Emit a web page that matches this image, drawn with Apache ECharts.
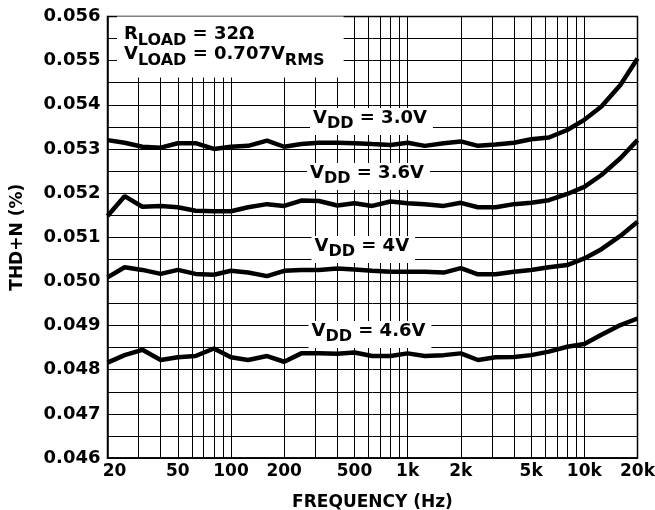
<!DOCTYPE html>
<html>
<head>
<meta charset="utf-8">
<script src="https://cdn.jsdelivr.net/npm/echarts@6/dist/echarts.min.js"></script>
<style>
html,body{margin:0;padding:0;background:#fff;}
#chart{width:655px;height:510px;}
</style>
</head>
<body>
<div id="chart"></div>
<script>
// ---- data ----
const freqs = [20,25,31.5,40,50,63,80,100,125,160,200,250,315,400,500,630,800,1000,1250,1600,2000,2500,3150,4000,5000,6300,8000,10000,12500,16000,20000];
const vdd30 = [0.05320,0.05314,0.05305,0.05303,0.05313,0.05313,0.05300,0.05305,0.05307,0.05319,0.05305,0.05311,0.05314,0.05314,0.05313,0.05311,0.05309,0.05314,0.05307,0.05313,0.05317,0.05307,0.05310,0.05314,0.05322,0.05326,0.05343,0.05366,0.05396,0.05445,0.05505];
const vdd36 = [0.05148,0.05193,0.05169,0.05171,0.05168,0.05160,0.05159,0.05159,0.05168,0.05175,0.05171,0.05183,0.05182,0.05172,0.05177,0.05171,0.05181,0.05177,0.05175,0.05171,0.05178,0.05168,0.05168,0.05175,0.05178,0.05184,0.05198,0.05214,0.05241,0.05279,0.05320];
const vdd40 = [0.05009,0.05032,0.05026,0.05017,0.05026,0.05017,0.05015,0.05024,0.05020,0.05012,0.05024,0.05026,0.05026,0.05029,0.05027,0.05024,0.05022,0.05022,0.05022,0.05020,0.05030,0.05016,0.05016,0.05022,0.05026,0.05032,0.05037,0.05052,0.05073,0.05103,0.05135];
const vdd46 = [0.04816,0.04833,0.04845,0.04822,0.04828,0.04831,0.04848,0.04828,0.04822,0.04831,0.04818,0.04837,0.04837,0.04836,0.04839,0.04831,0.04831,0.04837,0.04831,0.04833,0.04837,0.04822,0.04828,0.04829,0.04833,0.04841,0.04852,0.04858,0.04879,0.04901,0.04916];
const gridFreqs = [20,30,40,50,60,70,80,90,100,200,300,400,500,600,700,800,900,1000,2000,3000,4000,5000,6000,7000,8000,9000,10000,20000];
const xLabelFreqs = [20,50,100,200,500,1000,2000,5000,10000,20000];
const yMin = 0.046, yMax = 0.056, yStep = 0.001;
const xName = 'FREQUENCY (Hz)';
const yName = 'THD+N (%)';

// ---- chart ----
const FONT = 'DejaVu Sans';
const lg = Math.log10;
const toXY = arr => freqs.map((f, i) => [lg(f), arr[i]]);
const fmtF = v => {
  const f = Math.round(Math.pow(10, v));
  const t = f >= 1000 ? (f / 1000) + 'k' : String(f);
  return f === 20 ? '{first|' + t + '}' : t;
};

const rich = {
  m: {fontFamily: FONT, fontWeight: 'bold', fontSize: 18, lineHeight: 20, verticalAlign: 'top', fill: '#000'},
  s: {fontFamily: FONT, fontWeight: 'bold', fontSize: 16, lineHeight: 20, padding: [7, 0, 0, 0], verticalAlign: 'top', fill: '#000'}
};
function label(text, left, top, padding) {
  return {
    type: 'text', left: left, top: top, z: 100,
    style: {text: text, rich: rich, backgroundColor: '#fff', padding: padding, fill: '#000',
            fontFamily: FONT, fontWeight: 'bold', fontSize: 18}
  };
}

const lineSeries = (name, arr) => ({
  name: name, type: 'line', data: toXY(arr), showSymbol: false, symbol: 'none',
  lineStyle: {color: '#000', width: 4.5}, z: 5, animation: false
});

const chart = echarts.init(document.getElementById('chart'));
chart.setOption({
  animation: false,
  backgroundColor: '#fff',
  grid: {left: 107.5, right: 17.5, top: 16.5, bottom: 52, show: true, borderColor: '#000', borderWidth: 1.5,
         containLabel: false, outerBoundsMode: 'none'},
  xAxis: {
    type: 'value', min: lg(20), max: lg(20000),
    name: xName, nameLocation: 'middle', nameGap: 36,
    nameTextStyle: {fontFamily: FONT, fontWeight: 'bold', fontSize: 17, color: '#000'},
    axisLine: {show: true, lineStyle: {color: '#000', width: 1.5}},
    axisTick: {show: false, customValues: gridFreqs.map(lg)},
    axisLabel: {customValues: xLabelFreqs.map(lg), formatter: fmtF, margin: 5,
                fontFamily: FONT, fontWeight: 'bold', fontSize: 17, color: '#000',
                rich: {first: {fontFamily: FONT, fontWeight: 'bold', fontSize: 17, color: '#000', padding: [0, 0, 0, 14]}}},
    splitLine: {show: true, lineStyle: {color: '#000', width: 1}}
  },
  yAxis: {
    type: 'value', min: yMin, max: yMax, interval: yStep,
    name: yName, nameLocation: 'middle', nameGap: 81, nameRotate: 90,
    nameTextStyle: {fontFamily: FONT, fontWeight: 'bold', fontSize: 17, color: '#000'},
    axisLine: {show: true, lineStyle: {color: '#000', width: 1.5}},
    axisTick: {show: false},
    axisLabel: {formatter: v => v.toFixed(3), margin: 7,
                fontFamily: FONT, fontWeight: 'bold', fontSize: 18, color: '#000'},
    splitLine: {show: true, lineStyle: {color: '#000', width: 1}},
    minorTick: {show: false, splitNumber: 2},
    minorSplitLine: {show: true, lineStyle: {color: '#000', width: 1}}
  },
  series: [
    lineSeries('VDD = 3.0V', vdd30),
    lineSeries('VDD = 3.6V', vdd36),
    lineSeries('VDD = 4V', vdd40),
    lineSeries('VDD = 4.6V', vdd46)
  ],
  graphic: [
    label('{m|R}{s|LOAD}{m| = 32Ω}\n{m|V}{s|LOAD}{m| = 0.707V}{s|RMS}', 117, 16.5, [9, 19, 12, 7]),
    label('{m|V}{s|DD}{m| = 3.0V}', 310, 108, [1, 6, 6, 3]),
    label('{m|V}{s|DD}{m| = 3.6V}', 307, 163, [1, 6, 6, 3]),
    label('{m|V}{s|DD}{m| = 4V}', 311.5, 236, [1, 6, 6, 3]),
    label('{m|V}{s|DD}{m| = 4.6V}', 308.5, 321, [1, 6, 6, 3])
  ]
});
</script>
</body>
</html>
